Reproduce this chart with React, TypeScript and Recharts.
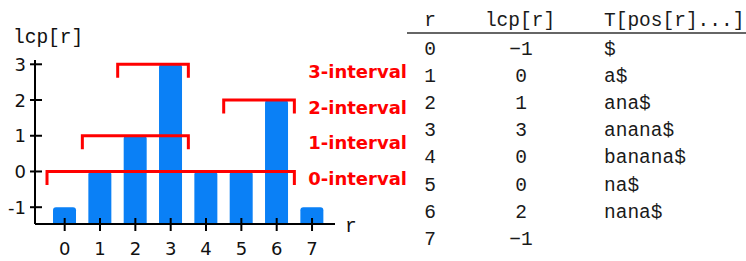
import React from "react";
import {
  ComposedChart,
  Bar,
  Line,
  XAxis,
  YAxis,
  ReferenceLine,
  Label,
} from "recharts";

// suffix array of "banana$"
const ranks = [0, 1, 2, 3, 4, 5, 6, 7];
const lcpValues = [-1, 0, 1, 3, 0, 0, 2, -1];
const suffixes = ["$", "a$", "ana$", "anana$", "banana$", "na$", "nana$", ""];

// lcp-intervals: level with left/right bound (ranks)
const intervalLevels = [0, 1, 2, 3];
const intervalLeft = [0, 1, 5, 2];
const intervalRight = [6, 3, 6, 3];

const yTicks = [-1, 0, 1, 2, 3];
const X_DOMAIN = [-0.84, 7.65];
const Y_MIN = -1.47;
const Y_MAX = 3.12;
const DROP = 0.38;

const BLUE = "#0a80f6";
const RED = "#ff0000";
const MONO = "'Liberation Mono', monospace";
const SANS = "'DejaVu Sans', sans-serif";

const data = ranks.map((r, i) => ({ r, lcp: lcpValues[i] }));

const brackets = intervalLevels.map((level, i) => {
  const a = intervalLeft[i] - 0.5;
  const b = intervalRight[i] + 0.5;
  return {
    level,
    points: [
      { r: a, y: level - DROP },
      { r: a, y: level },
      { r: b, y: level },
      { r: b, y: level - DROP },
    ],
  };
});

const YTick = (props: any) => {
  const { x, y, payload } = props;
  return (
    <g>
      <line x1={x - 5} x2={x + 7} y1={y} y2={y} stroke="#000" strokeWidth={2} />
      <text x={x - 9} y={y} dy={6.5} textAnchor="end" fontFamily={SANS} fontSize={18} fill="#111">
        {payload.value}
      </text>
    </g>
  );
};

const XTick = (props: any) => {
  const { x, y, payload } = props;
  return (
    <g>
      <line x1={x} x2={x} y1={y - 6} y2={y + 7} stroke="#000" strokeWidth={2} />
      <text x={x} y={y + 31} textAnchor="middle" fontFamily={SANS} fontSize={18} fill="#111">
        {payload.value}
      </text>
    </g>
  );
};

const IntervalLabel = (level: number) => (props: any) => {
  const { viewBox } = props;
  return (
    <text
      x={viewBox.x + viewBox.width + 72}
      y={viewBox.y + 13.5}
      textAnchor="end"
      fontFamily={SANS}
      fontWeight="bold"
      fontSize={18}
      fill={RED}
    >
      {`${level}-interval`}
    </text>
  );
};

const LcpTable = () => {
  const rowY = (i: number) => 55 + i * 27.1;
  return (
    <svg width={746} height={261} style={{ position: "absolute", left: 0, top: 0 }}>
      <g fontFamily={MONO} fontSize={19.5} fill="#1a1a1a">
        <text x={430} y={26} textAnchor="middle">r</text>
        <text x={520} y={26} textAnchor="middle">lcp[r]</text>
        <text x={604} y={26}>T[pos[r]...]</text>
        {ranks.map((r, i) => (
          <g key={r}>
            <text x={430} y={rowY(i)} textAnchor="middle">{r}</text>
            <text x={521} y={rowY(i)} textAnchor="middle">
              {lcpValues[i] < 0 ? `\u2212${-lcpValues[i]}` : lcpValues[i]}
            </text>
            <text x={604} y={rowY(i)}>{suffixes[i]}</text>
          </g>
        ))}
      </g>
      <line x1={407} x2={746} y1={33} y2={33} stroke="#666" strokeWidth={2} />
    </svg>
  );
};

export default function App() {
  return (
    <div style={{ position: "absolute", left: 0, top: 0, width: 746, height: 261, background: "#fff" }}>
      <LcpTable />
      <div style={{ position: "absolute", left: 0, top: 0 }}>
        <ComposedChart
          width={420}
          height={261}
          data={data}
          margin={{ top: 60, right: 85, bottom: 0, left: 0 }}
        >
          <XAxis
            dataKey="r"
            type="number"
            domain={X_DOMAIN}
            ticks={ranks}
            allowDataOverflow
            height={37}
            tickSize={0}
            tickMargin={0}
            tickLine={false}
            axisLine={{ stroke: "#000", strokeWidth: 2 }}
            tick={<XTick />}
            interval={0}
          >
            <Label
              content={(p: any) => (
                <text
                  x={p.viewBox.x + p.viewBox.width + 10}
                  y={p.viewBox.y + 8}
                  fontFamily={MONO}
                  fontSize={19.5}
                  fill="#111"
                >
                  r
                </text>
              )}
            />
          </XAxis>
          <XAxis
            xAxisId="brackets"
            dataKey="r"
            type="number"
            domain={X_DOMAIN}
            allowDataOverflow
            hide
          />
          <YAxis
            type="number"
            domain={[Y_MIN, Y_MAX]}
            ticks={yTicks}
            allowDataOverflow
            width={35}
            tickSize={0}
            tickMargin={0}
            tickLine={false}
            axisLine={{ stroke: "#000", strokeWidth: 2 }}
            tick={<YTick />}
            interval={0}
          >
            <Label
              content={(p: any) => (
                <text x={13} y={p.viewBox.y - 17} fontFamily={MONO} fontSize={19.5} fill="#111">
                  lcp[r]
                </text>
              )}
            />
          </YAxis>
          <Bar
            dataKey={(d: any) => [Y_MIN, d.lcp]}
            fill={BLUE}
            barSize={23}
            radius={[3, 3, 0, 0]}
            isAnimationActive={false}
          />
          {brackets.map((b) => (
            <Line
              key={b.level}
              xAxisId="brackets"
              data={b.points}
              dataKey="y"
              type="linear"
              stroke={RED}
              strokeWidth={3}
              strokeLinejoin="miter"
              dot={false}
              activeDot={false}
              isAnimationActive={false}
            />
          ))}
          {intervalLevels.map((level) => (
            <ReferenceLine
              key={`lbl-${level}`}
              y={level}
              stroke="none"
              label={IntervalLabel(level)}
            />
          ))}
        </ComposedChart>
      </div>
    </div>
  );
}
